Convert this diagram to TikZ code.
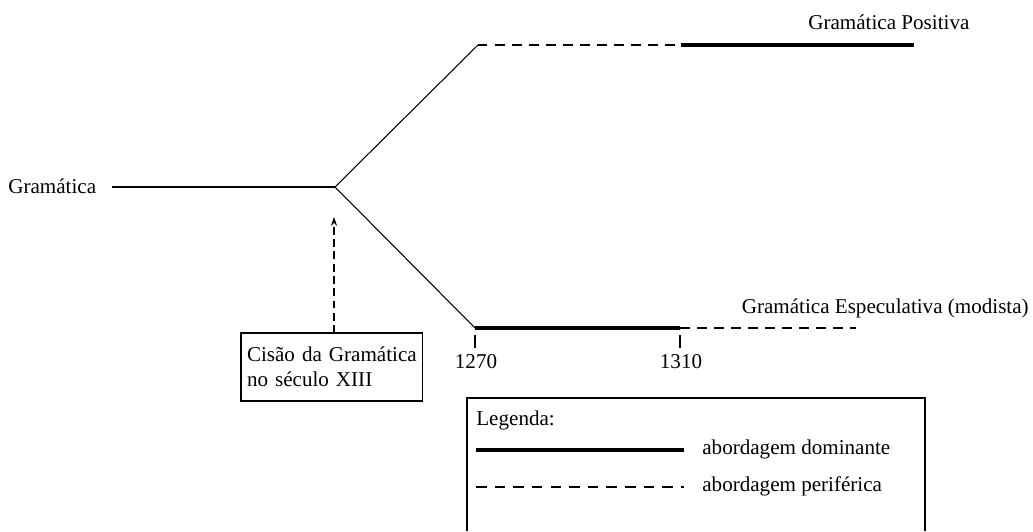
\documentclass[tikz,border=0pt]{standalone}
\usepackage{fontspec}
\setmainfont{Liberation Serif}
\usetikzlibrary{arrows.meta}
\tikzset{
  branch/.style={line width=0.6pt},
  domline/.style={line width=2.4pt},
  periline/.style={line width=0.6pt,dash pattern=on 5.4pt off 4.3pt},
  legdash/.style={line width=0.6pt,dash pattern=on 6pt off 4.6pt},
  cisarrow/.style={line width=0.6pt,dash pattern=on 4.4pt off 2.6pt,-{Stealth[length=5pt,width=3.5pt]}},
  lbl/.style={inner sep=0pt,font=\fontsize{12}{14.2}\selectfont},
  cisbox/.style={draw,line width=0.6pt,align=left,anchor=north west,inner xsep=0.12cm,inner ysep=0.14cm,
    outer sep=0pt,text width=3.4cm,minimum height=1.36cm,font=\fontsize{12}{14.2}\selectfont}
}

\begin{document}
\begin{tikzpicture}[x=0.02cm,y=-0.02cm]
  \useasboundingbox (0,0) rectangle (1033,531);
  % ramos
  \node[lbl,anchor=west] (gram) at (8,186) {Gramática};
  \coordinate (gramEnd) at (112,187);
  \coordinate (split) at (335,187);
  \coordinate (upA) at (478,45);
  \coordinate (upB) at (681,45);
  \coordinate (upC) at (914,45);
  \coordinate (loA) at (475,328);
  \coordinate (loB) at (680,328);
  \coordinate (loC) at (856,328);
  \draw[branch] (gramEnd) -- (split);
  \draw[branch] (split) -- (upA);
  \draw[branch] (split) -- (loA);
  \draw[periline] (upA) -- (upB);
  \draw[domline] (upB) -- (upC);
  \draw[domline] (loA) -- (loB);
  \draw[periline] (loB) -- (loC);
  \node[lbl,anchor=west] (posit) at (808,22) {Gramática Positiva};
  \node[lbl,anchor=east] (espec) at (1029,308) {Gramática Especulativa (modista)};

  % datas
  \coordinate (tickA) at (475,335);
  \coordinate (tickB) at (680,335);
  \node[lbl] (y1270) at (476,362) {1270};
  \node[lbl] (y1310) at (681,362) {1310};
  \draw[branch] (tickA) -- ++(0,13);
  \draw[branch] (tickB) -- ++(0,13);

  % cisao
  \node[cisbox] (cis) at (241,333) {Cisão da Gramática\\no século XIII};
  \coordinate (cisTip) at (334,217);
  \draw[cisarrow] (cis.north -| cisTip) -- (cisTip);

  % legenda
  \coordinate (legSW) at (467,531);
  \coordinate (legNW) at (467,398);
  \coordinate (legNE) at (925,398);
  \coordinate (legSE) at (925,531);
  \draw[branch] (legSW) -- (legNW) -- (legNE) -- (legSE);
  \node[lbl,anchor=west] (legTitle) at (476,420) {Legenda:};
  \coordinate (domA) at (476,450);
  \coordinate (domB) at (684,450);
  \coordinate (perA) at (476,487);
  \coordinate (perB) at (684,487);
  \draw[domline] (domA) -- (domB);
  \draw[legdash] (perA) -- (perB);
  \node[lbl,anchor=west] (domTxt) at (702,449) {abordagem dominante};
  \node[lbl,anchor=west] (perTxt) at (702,486) {abordagem periférica};
\end{tikzpicture}
\end{document}
